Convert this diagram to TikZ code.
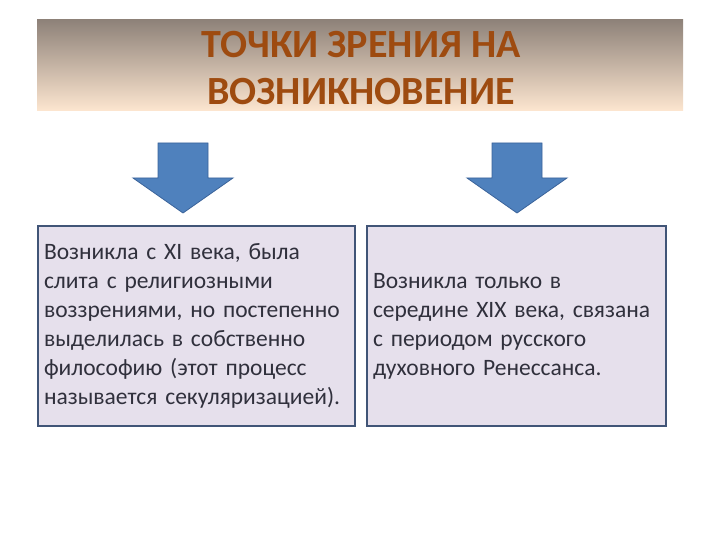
\documentclass[tikz,border=0pt]{standalone}
\usepackage{fontspec}
\setmainfont{Carlito}
\usepackage{xcolor}
\usetikzlibrary{positioning, calc}

\definecolor{bandtop}{HTML}{8E8279}
\definecolor{bandbot}{HTML}{FDE6D0}
\definecolor{titlebrown}{HTML}{9E4B10}
\definecolor{arrowblue}{HTML}{4F81BD}
\definecolor{arrowedge}{HTML}{3A639A}
\definecolor{boxfill}{HTML}{E6E0EC}
\definecolor{boxedge}{HTML}{415577}
\definecolor{bodytext}{HTML}{30303C}

\tikzset{
    textbox/.style={draw=boxedge, line width=2bp, fill=boxfill, minimum height=200bp,
        inner xsep=6bp, inner ysep=8bp, align=left, text=bodytext,
        font=\fontsize{23.5bp}{29bp}\selectfont},
    blockarrow/.pic={
        \draw[fill=arrowblue, draw=arrowedge, line width=0.8bp]
            (-25,0) -- (25,0) -- (25,35) -- (50,35) -- (0,70)
            -- (-50,35) -- (-25,35) -- cycle;
    }
}

\begin{document}
\begin{tikzpicture}[x=1bp,y=-1bp]
\useasboundingbox (0,0) rectangle (720,540);
% title band
\shade[top color=bandtop, bottom color=bandbot] (37,20) rectangle (683,111);
\node[text=titlebrown, font=\fontsize{40bp}{47bp}\selectfont\bfseries, align=center]
    (title) at (361,68) {ТОЧКИ ЗРЕНИЯ НА\\ВОЗНИКНОВЕНИЕ};
% arrows
\coordinate (arrowL) at (183,143);
\coordinate (arrowR) at (517,143);
\pic at (arrowL) {blockarrow};
\pic at (arrowR) {blockarrow};
% boxes
\node[textbox, minimum width=317bp, text width=305bp, anchor=north west]
    (boxL) at (37,225) {Возникла с XI века, была\\слита с религиозными\\воззрениями, но постепенно\\выделилась в собственно\\философию (этот процесс\\называется секуляризацией).};
\node[textbox, minimum width=299bp, text width=287bp, anchor=north west]
    (boxR) at (366,225) {Возникла только в\\середине XIX века, связана\\с периодом русского\\духовного Ренессанса.};
\end{tikzpicture}
\end{document}
